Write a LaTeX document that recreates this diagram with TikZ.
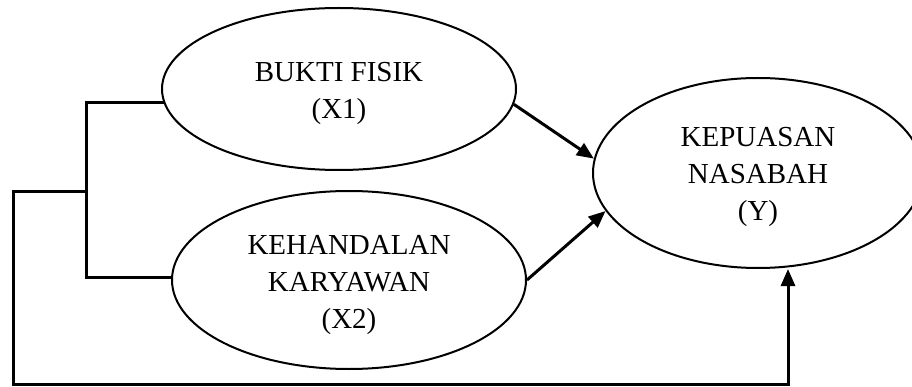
\documentclass[tikz,border=0pt]{standalone}
\usepackage{fontspec}
\setmainfont{Liberation Serif}
\usetikzlibrary{shapes.geometric,arrows.meta}
\begin{document}
\begin{tikzpicture}[x=1pt,y=-1pt,
  construct/.style={ellipse,draw,line width=2pt,inner sep=0pt},
  caption/.style={align=center,inner sep=0pt,font=\fontsize{29}{37}\selectfont},
  link/.style={line width=3pt},
  effect/.style={link,-{Triangle[length=17pt,width=14pt]}}]
\useasboundingbox (0,0) rectangle (912,387);

% constructs
\node[construct,minimum width=354pt,minimum height=162pt] (e1) at (339,89) {};
\node[construct,minimum width=354pt,minimum height=178pt] (e2) at (349,280) {};
\node[construct,minimum width=330pt,minimum height=190pt] (e3) at (758,173) {};

% their captions
\node[caption] (t1) at ([yshift=-4pt]e1.center) {BUKTI FISIK\\(X1)};
\node[caption] (t2) at ([yshift=-5pt]e2.center) {KEHANDALAN\\KARYAWAN\\(X2)};
\node[caption] (t3) at ([yshift=-4pt]e3.center) {KEPUASAN\\NASABAH\\(Y)};

% bracket joining the two independent variables
\coordinate (ja) at (86,103);
\coordinate (jb) at (86,277);
\coordinate (jc) at (86,192);
\coordinate (la) at (13,192);
\coordinate (lb) at (13,384);
\coordinate (lc) at (788,384);

\draw[link,shorten <=-3pt] (ja -| e1.west) -- (ja) -- (jb) -- (jb -| e2.west);

% simultaneous effect
\draw[effect] (jc) -- (la) -- (lb) -- (lc) -- (lc |- e3.south);

% partial effects
\draw[effect] (e1.355) -- (e3.175);
\draw[effect] (e2.east) -- (e3.194);
\end{tikzpicture}
\end{document}
